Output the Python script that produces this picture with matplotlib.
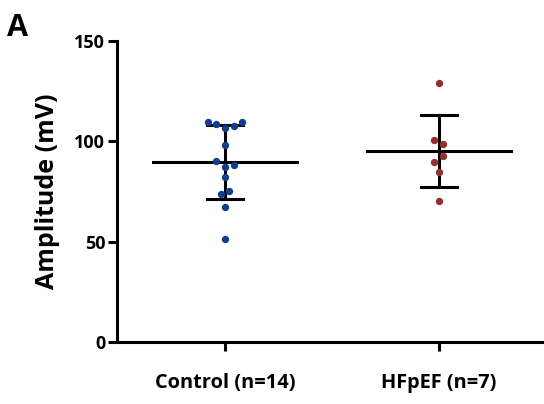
import matplotlib.pyplot as plt
import numpy as np

plt.rcParams['font.family'] = ['Open Sans', 'DejaVu Sans']
plt.rcParams['font.weight'] = 'bold'

groups = ['Control (n=14)', 'HFpEF (n=7)']
control = [109.6, 108.6, 106.6, 107.6, 109.5, 98.3, 90.2, 87.4, 88.0, 82.1,
           75.4, 73.9, 67.1, 51.2]
# horizontal offsets of the scatter points (category units)
control_dx = [-0.082, -0.042, 0, 0.04, 0.08, 0, -0.042, 0, 0.04, 0,
              0.02, -0.02, 0, 0]
hfpef = [129.2, 100.8, 98.5, 92.7, 89.5, 84.7, 70.3]
hfpef_dx = [0, -0.022, 0.02, 0.02, -0.022, 0, 0]
colors = ['#0f3d8f', '#962e2e']

fig = plt.figure(figsize=(5.44, 4.04), dpi=100)
ax = fig.add_axes([0.2151, 0.1535, 0.7849, 0.745])

for i, (vals, dx) in enumerate([(control, control_dx), (hfpef, hfpef_dx)]):
    vals = np.array(vals)
    ax.scatter(i + np.array(dx), vals, s=28, color=colors[i], zorder=3, linewidths=0)
    m, sd = vals.mean(), vals.std(ddof=1)
    ax.plot([i - 0.336, i + 0.336], [m, m], color='black', lw=2.2, zorder=2)
    ax.plot([i, i], [m - sd, m + sd], color='black', lw=2.2, zorder=2)
    for y in (m - sd, m + sd):
        ax.plot([i - 0.085, i + 0.085], [y, y], color='black', lw=2.2, zorder=2)

ax.set_xlim(-0.505, 1.49)
ax.set_ylim(0, 150)
ax.set_yticks([0, 50, 100, 150])
ax.set_xticks([0, 1])
ax.set_xticklabels(groups)
ax.spines['top'].set_visible(False)
ax.spines['right'].set_visible(False)
ax.spines['left'].set_linewidth(2.2)
ax.spines['bottom'].set_linewidth(2.2)
ax.tick_params(axis='y', length=6.5, width=2.2, labelsize=13, pad=2)
ax.tick_params(axis='x', length=6.5, width=2.2, labelsize=14.4, pad=15.5)
ax.set_ylabel('Amplitude (mV)', fontsize=18, fontweight='bold', labelpad=10)
fig.text(0.012, 0.91, 'A', fontsize=22, fontweight='bold')

plt.savefig('out.png', dpi=100)
